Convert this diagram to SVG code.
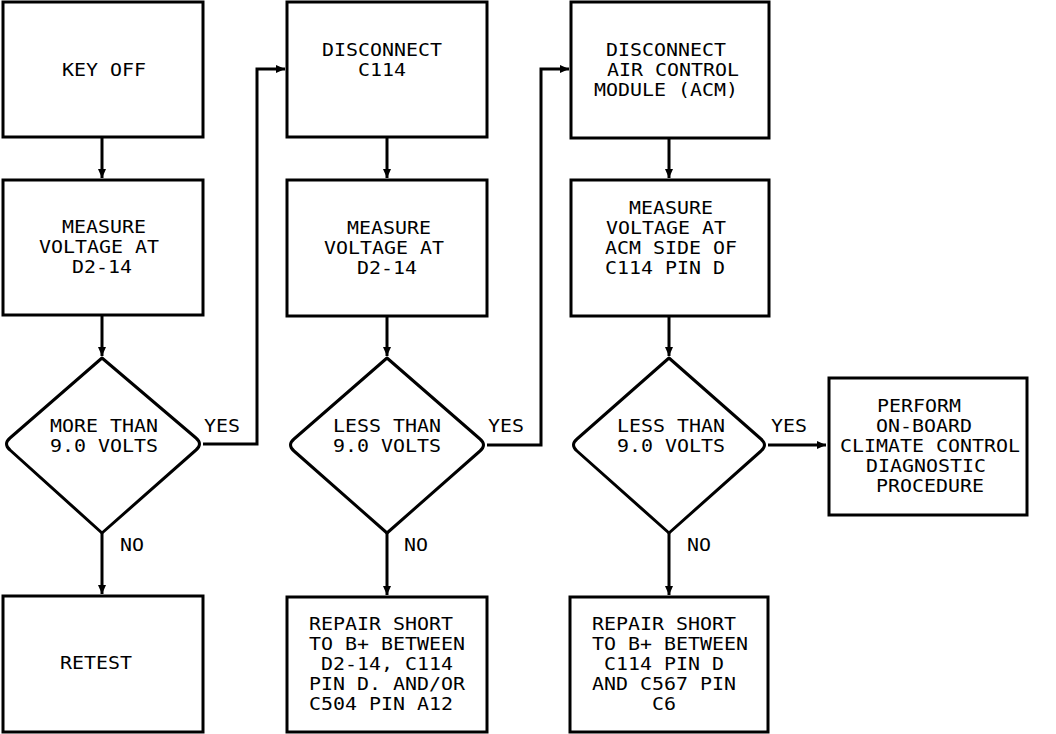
<svg xmlns="http://www.w3.org/2000/svg" width="1056" height="734" viewBox="0 0 1056 734">
<style>
.b{fill:#fff;stroke:#000;stroke-width:3;stroke-linejoin:miter}
.d{fill:#fff;stroke:#000;stroke-width:3;stroke-linejoin:round}
.c{fill:none;stroke:#000;stroke-width:3}
text{font-family:"DejaVu Sans Mono","Liberation Mono",monospace;font-size:17px;fill:#000;white-space:pre}
</style>
<defs>
<marker id="ah" markerUnits="userSpaceOnUse" markerWidth="10" markerHeight="10" refX="9" refY="4" orient="auto">
<path d="M0,0 L9,4 L0,8 Z" fill="#000"/>
</marker>
</defs>
<rect width="1056" height="734" fill="#fff"/>
<g id="connectors">
<path class="c" d="M102,137 V178" marker-end="url(#ah)"/>
<path class="c" d="M102,315 V356" marker-end="url(#ah)"/>
<path class="c" d="M102,533 V594" marker-end="url(#ah)"/>
<path class="c" d="M203,444 H257 V69 H285" marker-end="url(#ah)"/>
<path class="c" d="M387,137 V178" marker-end="url(#ah)"/>
<path class="c" d="M387,316 V356" marker-end="url(#ah)"/>
<path class="c" d="M387,533 V595" marker-end="url(#ah)"/>
<path class="c" d="M487,445 H541 V69 H569" marker-end="url(#ah)"/>
<path class="c" d="M669,138 V178" marker-end="url(#ah)"/>
<path class="c" d="M669,316 V356" marker-end="url(#ah)"/>
<path class="c" d="M669,533 V595" marker-end="url(#ah)"/>
<path class="c" d="M768,445 H826" marker-end="url(#ah)"/>
<text x="204" y="432" textLength="36" lengthAdjust="spacingAndGlyphs">YES</text>
<text x="120" y="551" textLength="24" lengthAdjust="spacingAndGlyphs">NO</text>
<text x="488" y="432" textLength="36" lengthAdjust="spacingAndGlyphs">YES</text>
<text x="404" y="551" textLength="24" lengthAdjust="spacingAndGlyphs">NO</text>
<text x="771" y="432" textLength="36" lengthAdjust="spacingAndGlyphs">YES</text>
<text x="687" y="551" textLength="24" lengthAdjust="spacingAndGlyphs">NO</text>
</g>
<g id="n1">
<rect class="b" x="3" y="2" width="200" height="135"/>
<text x="62" y="76" textLength="84" lengthAdjust="spacingAndGlyphs">KEY OFF</text>
</g>
<g id="n2">
<rect class="b" x="3" y="180" width="200" height="135"/>
<text x="62" y="233" textLength="84" lengthAdjust="spacingAndGlyphs">MEASURE</text>
<text x="39" y="253" textLength="120" lengthAdjust="spacingAndGlyphs">VOLTAGE AT</text>
<text x="72" y="273" textLength="60" lengthAdjust="spacingAndGlyphs">D2-14</text>
</g>
<g id="n3">
<path class="d" d="M102,358 L196,438 Q203,444 196,450 L102,533 L10,450 Q3,444 10,438 Z"/>
<text x="50" y="432" textLength="108" lengthAdjust="spacingAndGlyphs">MORE THAN</text>
<text x="50" y="452" textLength="108" lengthAdjust="spacingAndGlyphs">9.0 VOLTS</text>
</g>
<g id="n4">
<rect class="b" x="3" y="596" width="200" height="136"/>
<text x="60" y="669" textLength="72" lengthAdjust="spacingAndGlyphs">RETEST</text>
</g>
<g id="n5">
<rect class="b" x="287" y="2" width="200" height="135"/>
<text x="322" y="56" textLength="120" lengthAdjust="spacingAndGlyphs">DISCONNECT</text>
<text x="358" y="76" textLength="48" lengthAdjust="spacingAndGlyphs">C114</text>
</g>
<g id="n6">
<rect class="b" x="287" y="180" width="200" height="136"/>
<text x="347" y="234" textLength="84" lengthAdjust="spacingAndGlyphs">MEASURE</text>
<text x="324" y="254" textLength="120" lengthAdjust="spacingAndGlyphs">VOLTAGE AT</text>
<text x="357" y="274" textLength="60" lengthAdjust="spacingAndGlyphs">D2-14</text>
</g>
<g id="n7">
<path class="d" d="M387,358 L480,439 Q487,445 480,451 L387,533 L294,451 Q287,445 294,439 Z"/>
<text x="333" y="432" textLength="108" lengthAdjust="spacingAndGlyphs">LESS THAN</text>
<text x="333" y="452" textLength="108" lengthAdjust="spacingAndGlyphs">9.0 VOLTS</text>
</g>
<g id="n8">
<rect class="b" x="287" y="597" width="200" height="135"/>
<text x="309" y="630" textLength="144" lengthAdjust="spacingAndGlyphs">REPAIR SHORT</text>
<text x="309" y="650" textLength="156" lengthAdjust="spacingAndGlyphs">TO B+ BETWEEN</text>
<text x="321" y="670" textLength="132" lengthAdjust="spacingAndGlyphs">D2-14, C114</text>
<text x="309" y="690" textLength="156" lengthAdjust="spacingAndGlyphs">PIN D. AND/OR</text>
<text x="309" y="710" textLength="144" lengthAdjust="spacingAndGlyphs">C504 PIN A12</text>
</g>
<g id="n9">
<rect class="b" x="571" y="2" width="198" height="136"/>
<text x="606" y="56" textLength="120" lengthAdjust="spacingAndGlyphs">DISCONNECT</text>
<text x="607" y="76" textLength="132" lengthAdjust="spacingAndGlyphs">AIR CONTROL</text>
<text x="594" y="96" textLength="144" lengthAdjust="spacingAndGlyphs">MODULE (ACM)</text>
</g>
<g id="n10">
<rect class="b" x="571" y="180" width="198" height="136"/>
<text x="629" y="214" textLength="84" lengthAdjust="spacingAndGlyphs">MEASURE</text>
<text x="606" y="234" textLength="120" lengthAdjust="spacingAndGlyphs">VOLTAGE AT</text>
<text x="605" y="254" textLength="132" lengthAdjust="spacingAndGlyphs">ACM SIDE OF</text>
<text x="605" y="274" textLength="120" lengthAdjust="spacingAndGlyphs">C114 PIN D</text>
</g>
<g id="n11">
<path class="d" d="M669,358 L761,439 Q768,445 761,451 L669,533 L577,451 Q570,445 577,439 Z"/>
<text x="617" y="432" textLength="108" lengthAdjust="spacingAndGlyphs">LESS THAN</text>
<text x="617" y="452" textLength="108" lengthAdjust="spacingAndGlyphs">9.0 VOLTS</text>
</g>
<g id="n12">
<rect class="b" x="570" y="597" width="198" height="135"/>
<text x="592" y="630" textLength="144" lengthAdjust="spacingAndGlyphs">REPAIR SHORT</text>
<text x="592" y="650" textLength="156" lengthAdjust="spacingAndGlyphs">TO B+ BETWEEN</text>
<text x="604" y="670" textLength="120" lengthAdjust="spacingAndGlyphs">C114 PIN D</text>
<text x="592" y="690" textLength="144" lengthAdjust="spacingAndGlyphs">AND C567 PIN</text>
<text x="652" y="710" textLength="24" lengthAdjust="spacingAndGlyphs">C6</text>
</g>
<g id="n13">
<rect class="b" x="829" y="378" width="198" height="137"/>
<text x="877" y="412" textLength="84" lengthAdjust="spacingAndGlyphs">PERFORM</text>
<text x="876" y="432" textLength="96" lengthAdjust="spacingAndGlyphs">ON-BOARD</text>
<text x="840" y="452" textLength="180" lengthAdjust="spacingAndGlyphs">CLIMATE CONTROL</text>
<text x="866" y="472" textLength="120" lengthAdjust="spacingAndGlyphs">DIAGNOSTIC</text>
<text x="876" y="492" textLength="108" lengthAdjust="spacingAndGlyphs">PROCEDURE</text>
</g>
</svg>
